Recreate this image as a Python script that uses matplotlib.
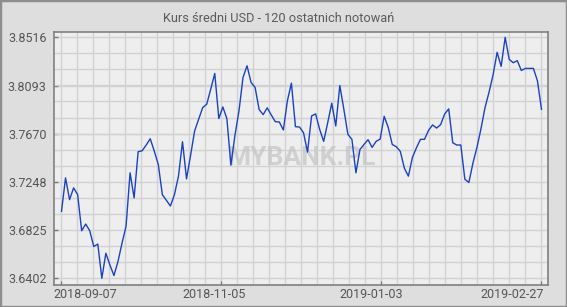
import numpy as np
import matplotlib
matplotlib.use("Agg")
import matplotlib.pyplot as plt
from matplotlib.ticker import FixedLocator
from matplotlib.transforms import ScaledTranslation
from matplotlib.patches import Rectangle

plt.rcParams['font.family'] = ['Roboto', 'DejaVu Sans']

title = "Kurs średni USD - 120 ostatnich notowań"
watermark = "MYBANK.PL"

rates = [
    3.6989, 3.7283, 3.7092, 3.7195, 3.7136, 3.6819, 3.6878, 3.6819, 3.6681, 3.6702,
    3.6402, 3.6622, 3.6519, 3.6426, 3.6549, 3.6710, 3.6857, 3.7327, 3.7107, 3.7512,
    3.7521, 3.7571, 3.7626, 3.7518, 3.7400, 3.7136, 3.7086, 3.7036, 3.7136, 3.7298,
    3.7600, 3.7274, 3.7480, 3.7694, 3.7797, 3.7899, 3.7929, 3.8061, 3.8199, 3.7803,
    3.7905, 3.7803, 3.7394, 3.7656, 3.7870, 3.8164, 3.8266, 3.8120, 3.8076, 3.7882,
    3.7838, 3.7897, 3.7835, 3.7776, 3.7773, 3.7703, 3.7958, 3.8114, 3.7732, 3.7729,
    3.7679, 3.7509, 3.7826, 3.7844, 3.7709, 3.7603, 3.7767, 3.7938, 3.7738, 3.8093,
    3.7885, 3.7665, 3.7621, 3.7327, 3.7532, 3.7576, 3.7618, 3.7550, 3.7603, 3.7623,
    3.7823, 3.7726, 3.7576, 3.7556, 3.7515, 3.7368, 3.7298, 3.7462, 3.7547, 3.7621,
    3.7621, 3.7700, 3.7747, 3.7720, 3.7750, 3.7844, 3.7888, 3.7591, 3.7571, 3.7571,
    3.7271, 3.7242, 3.7412, 3.7550, 3.7714, 3.7899, 3.8035, 3.8187, 3.8384, 3.8261,
    3.8516, 3.8322, 3.8293, 3.8311, 3.8225, 3.8243, 3.8243, 3.8243, 3.8134, 3.7885,
]
y_ticks = [3.6402, 3.6825, 3.7248, 3.7670, 3.8093, 3.8516]
y_tick_labels = ["3.6402", "3.6825", "3.7248", "3.7670", "3.8093", "3.8516"]
x_tick_labels = ["2018-09-07", "2018-11-05", "2019-01-03", "2019-02-27"]

n = len(rates)
x = np.arange(n)

W, H = 567, 307
fig = plt.figure(figsize=(W / 100, H / 100), dpi=100, facecolor='#dedede')
ax = fig.add_axes([54.3 / W, (H - 285) / H, (548.3 - 54.3) / W, (285 - 31.7) / H])
ax.set_facecolor('#eeeeee')

# figure border
fig.patches.append(Rectangle((0, 0), 1, 1, transform=fig.transFigure, fill=False,
                             edgecolor='#8e8e8e', linewidth=2.5, zorder=10))

ax.plot(x, rates, color='#1a42c0', linewidth=1.0, zorder=3)

x_tick_pos = np.linspace(0, n - 1, len(x_tick_labels))
ax.set_xlim(-1.785, (n - 1) + 1.69)
ax.set_ylim(3.63432, 3.85651)

ax.set_xticks(x_tick_pos)
ax.set_xticklabels(x_tick_labels)
ax.set_yticks(y_ticks)
ax.set_yticklabels(y_tick_labels)

step_x = (x_tick_pos[1] - x_tick_pos[0]) / 10
ax.xaxis.set_minor_locator(FixedLocator(np.arange(0, n - 1 + 0.01, step_x)))
step_y = (y_ticks[1] - y_ticks[0]) / 3
ax.yaxis.set_minor_locator(FixedLocator(np.arange(y_ticks[0], y_ticks[-1] + 1e-6, step_y)))
ax.grid(which='both', color='#d2d2d2', linewidth=1.0, zorder=0)
ax.set_axisbelow(True)

ax.tick_params(which='minor', length=0)
ax.tick_params(which='major', direction='in', length=3, color='#777777', width=1,
               labelcolor='#555555', labelsize=9)
ax.tick_params(axis='y', pad=5.5)
ax.tick_params(axis='x', pad=2.0)

for sp in ax.spines.values():
    sp.set_color('#808080')
    sp.set_linewidth(1.2)

# x label horizontal offsets (pixels)
offsets = [24, -7, -10, -29]
for lab, dx in zip(ax.get_xticklabels(), offsets):
    lab.set_transform(lab.get_transform() + ScaledTranslation(dx / 100, 0, fig.dpi_scale_trans))

ax.text(0.5, 0.5, watermark, transform=ax.transAxes, ha='center', va='center',
        fontsize=19, fontweight='bold', color='#c4c4c4', alpha=0.7, zorder=2)

fig.text(279 / W, (H - 19) / H, title, ha='center', va='center', fontsize=9.2, color='#5a5a5a')

fig.savefig('out.png', dpi=100, facecolor=fig.get_facecolor())
